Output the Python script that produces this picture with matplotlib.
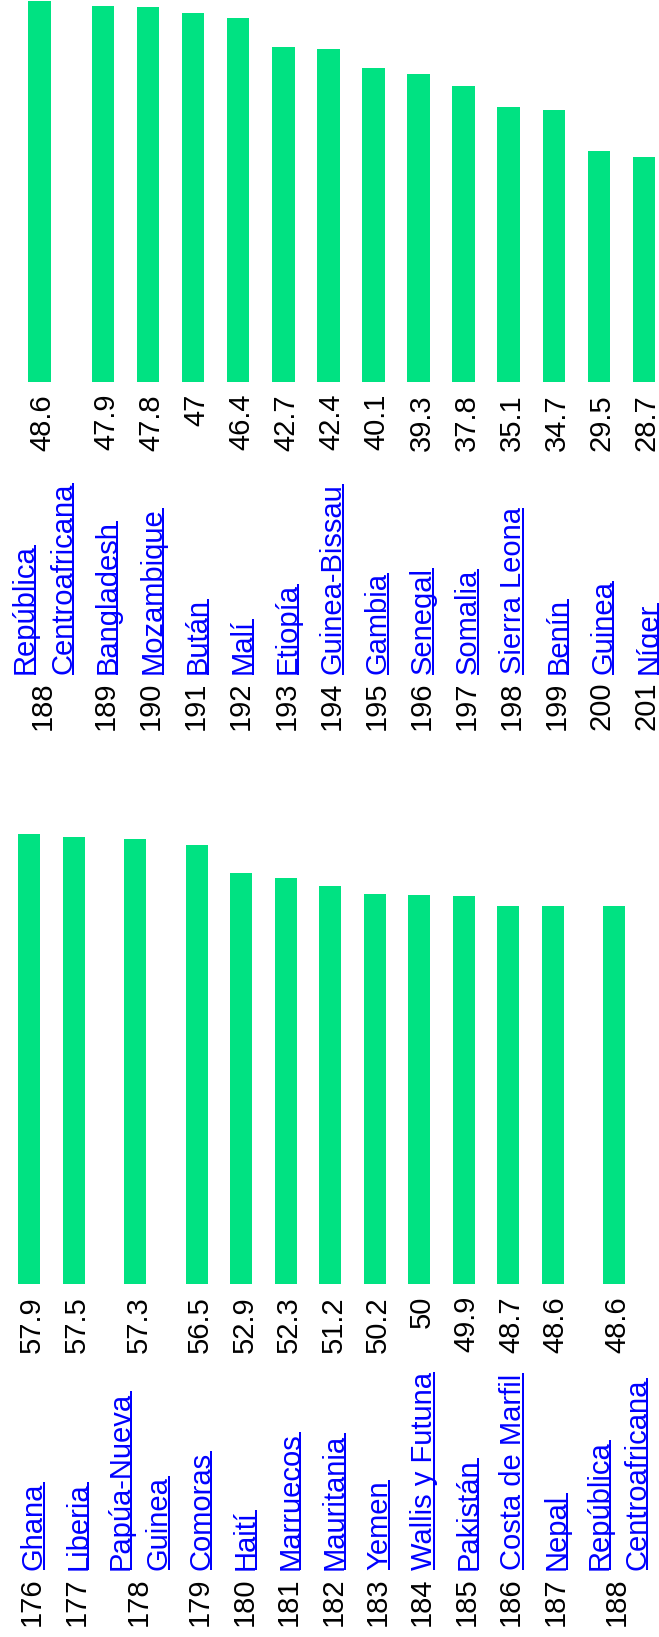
import matplotlib
matplotlib.use("Agg")
import matplotlib.pyplot as plt
from matplotlib.transforms import blended_transform_factory, IdentityTransform
from matplotlib.lines import Line2D

plt.rcParams['font.family'] = ['Liberation Sans', 'DejaVu Sans']

# ---------------- data ----------------
ranks_a = [176, 177, 178, 179, 180, 181, 182, 183, 184, 185, 186, 187, 188]
names_a = ["Ghana", "Liberia", "Papúa-Nueva\nGuinea", "Comoras", "Haití",
           "Marruecos", "Mauritania", "Yemen", "Wallis y Futuna", "Pakistán",
           "Costa de Marfil", "Nepal", "República\nCentroafricana"]
values_a = [57.9, 57.5, 57.3, 56.5, 52.9, 52.3, 51.2, 50.2, 50, 49.9, 48.7, 48.6, 48.6]

ranks_b = [188, 189, 190, 191, 192, 193, 194, 195, 196, 197, 198, 199, 200, 201]
names_b = ["República\nCentroafricana", "Bangladesh", "Mozambique", "Bután", "Malí",
           "Etiopía", "Guinea-Bissau", "Gambia", "Senegal", "Somalia",
           "Sierra Leona", "Benín", "Guinea", "Níger"]
values_b = [48.6, 47.9, 47.8, 47, 46.4, 42.7, 42.4, 40.1, 39.3, 37.8, 35.1, 34.7, 29.5, 28.7]

# ---------------- style / layout ----------------
W, H, DPI = 659, 1637, 100
BAR_COLOR = '#00E282'
LINK_COLOR = '#0000FF'
FS = 21

fig = plt.figure(figsize=(W / DPI, H / DPI), dpi=DPI)
fig.patch.set_facecolor('white')

sections = [
    dict(ranks=ranks_a, names=names_a, values=values_a, c0=29.2, step=44.45,
         extra=34.4, line=37.5, bar_w=22.0, ppu=7.77, base=1284.0, top=800.0,
         val_end=1296.0, name_start=1569.5, rank_start=1625.5),
    dict(ranks=ranks_b, names=names_b, values=values_b, c0=39.5, step=45.08,
         extra=36.8, line=38.5, bar_w=22.5, ppu=7.85, base=382.3, top=0.0,
         val_end=394.0, name_start=674.5, rank_start=730.5),
]

underline_jobs = []

for sec in sections:
    names = sec['names']
    nlines = [len(n.split('\n')) for n in names]
    centers = []
    c = sec['c0']
    for i, nl in enumerate(nlines):
        if i > 0:
            c += sec['step'] + sec['extra'] / 2 * (nlines[i - 1] - 1) + sec['extra'] / 2 * (nl - 1)
        centers.append(c)

    base, top, ppu = sec['base'], sec['top'], sec['ppu']
    ax = fig.add_axes([0, (H - base) / H, 1, (base - top) / H])
    ax.set_xlim(0, W)
    ax.set_ylim(0, (base - top) / ppu)
    ax.axis('off')
    ax.bar(centers, sec['values'], width=sec['bar_w'], color=BAR_COLOR, linewidth=0)

    tr = blended_transform_factory(ax.transData, IdentityTransform())
    for c, r, name, v in zip(centers, sec['ranks'], names, sec['values']):
        ax.text(c + 11, H - sec['rank_start'], str(r), transform=tr, rotation=90,
                rotation_mode='anchor', ha='left', va='baseline', fontsize=FS,
                color='black', clip_on=False)
        ax.text(c + 11, H - sec['val_end'], f"{v:g}", transform=tr, rotation=90,
                rotation_mode='anchor', ha='right', va='baseline', fontsize=FS,
                color='black', clip_on=False)
        lines = name.split('\n')
        n = len(lines)
        for k, ln in enumerate(lines):
            xb = c + 12.5 + (k - (n - 1) / 2) * sec['line']
            t = ax.text(xb, H - sec['name_start'], ln, transform=tr, rotation=90,
                        rotation_mode='anchor', ha='left', va='baseline',
                        fontsize=FS, color=LINK_COLOR, clip_on=False)
            underline_jobs.append((t, ax, xb))

fig.canvas.draw()
renderer = fig.canvas.get_renderer()
for t, ax, xb in underline_jobs:
    bb = t.get_window_extent(renderer)
    xd = ax.transData.transform((xb, 0))[0] + 2.0
    fig.add_artist(Line2D([xd, xd], [bb.y0, bb.y1], transform=IdentityTransform(),
                          color=LINK_COLOR, lw=2 * 72 / DPI, solid_capstyle='butt'))

fig.savefig('out.png', dpi=DPI, facecolor='white')
